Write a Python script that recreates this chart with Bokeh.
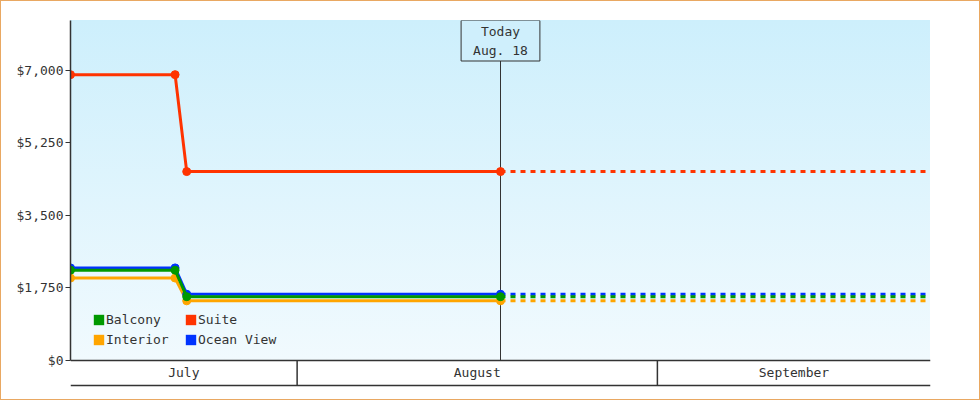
import pandas as pd
from bokeh.plotting import figure
from bokeh.models import (Range1d, FixedTicker, NumeralTickFormatter, Label,
                          Legend, LegendItem)
from bokeh.embed import file_html
from bokeh.resources import INLINE
from bokeh.core.properties import value

FONT = "DejaVu Sans Mono"
INK = "#333333"

# ---- data -------------------------------------------------------------
dates = ["2013-07-12 12:00", "2013-07-21 12:00", "2013-07-22 12:00", "2013-08-18 12:00"]
today = "2013-08-18 12:00"
range_start = "2013-07-12 12:00"
range_end = "2013-09-24 12:00"
month_starts = ["2013-08-01", "2013-09-01"]
month_names = ["July", "August", "September"]

interior = [1990, 1990, 1440, 1440]
ocean_view = [2235, 2235, 1600, 1600]
balcony = [2180, 2180, 1540, 1540]
suite = [6900, 6900, 4560, 4560]

y_ticks = [0, 1750, 3500, 5250, 7000]
y_max = 8207
y_min = -652
row_bottom = -603

series = [
    ("Interior", interior, "#FFA500"),
    ("Ocean View", ocean_view, "#0033FF"),
    ("Balcony", balcony, "#009900"),
    ("Suite", suite, "#FF3300"),
]
legend_order = ["Balcony", "Suite", "Interior", "Ocean View"]

t = pd.to_datetime
xd = t(pd.Series(dates))
x0, x1 = t(range_start), t(range_end)
xt = t(today)
ms = [t(m) for m in month_starts]

p = figure(width=980, height=400, x_axis_type="datetime", x_axis_location=None,
           x_range=Range1d(x0, x1), y_range=Range1d(y_min, y_max),
           output_backend="svg", toolbar_location=None,
           min_border_left=70, min_border_right=50, min_border_top=20,
           min_border_bottom=13)
p.background_fill_color = None
p.border_fill_color = None
p.outline_line_color = None
p.grid.visible = False
p.styles = {
    "position": "absolute", "left": "0px", "top": "0px",
    "background": "linear-gradient(#cdeffc, #f1fafe) 70px 20px / 860px 340px no-repeat, #ffffff",
    "outline": "1px solid #e9a862", "outline-offset": "-1px",
}

ax = p.yaxis[0]
ax.ticker = FixedTicker(ticks=y_ticks)
ax.formatter = NumeralTickFormatter(format="$0,0")
ax.bounds = (0, y_max)
ax.axis_line_color = INK
ax.axis_line_width = 1.5
ax.major_tick_line_color = INK
ax.major_tick_in = 0
ax.major_tick_out = 5
ax.minor_tick_line_color = None
ax.major_label_standoff = 2
ax.major_label_text_font = FONT
ax.major_label_text_font_size = "13px"
ax.major_label_text_color = INK

# month row
edges = [x0] + ms + [x1]
p.segment(x0=[x0, x0] + ms, y0=[0, row_bottom] + [row_bottom] * len(ms),
          x1=[x1, x1] + ms, y1=[0, row_bottom] + [0] * len(ms),
          line_color=INK, line_width=1.5)
mids = [edges[i] + (edges[i + 1] - edges[i]) / 2 for i in range(len(month_names))]
p.text(x=mids, y=[row_bottom / 2] * len(mids), text=month_names,
       text_align="center", text_baseline="middle",
       text_font=value(FONT), text_font_size="13px", text_color=INK)

# today line
p.segment(x0=[xt], y0=[0], x1=[xt], y1=[y_max], line_color=INK, line_width=1)

legend_r = {}
for name, vals, col in series:
    p.line(xd, vals, line_color=col, line_width=3)
    p.line([xt, x1], [vals[-1], vals[-1]], line_color=col, line_width=3, line_dash="5 5")
    p.scatter(xd, vals, size=8, fill_color=col, line_color=col)
    # zero-area quad: only used as the legend's colour swatch
    legend_r[name] = p.quad(left=xd[:1], right=xd[:1], top=vals[:1], bottom=vals[:1],
                            fill_color=col, line_color=None)

legend = Legend(items=[LegendItem(label=n, renderers=[legend_r[n]]) for n in legend_order],
                ncols=2, orientation="horizontal", location=(22, 40), padding=0, margin=0,
                spacing=5, glyph_width=13, glyph_height=13, label_height=15, label_width=73,
                label_standoff=1, label_text_font=FONT, label_text_font_size="13px",
                label_text_color=INK, background_fill_alpha=0, border_line_alpha=0)
p.add_layout(legend)

lab = Label(x=xt, y=y_max, text="Today\nAug. 18", text_align="center", text_baseline="top",
            text_font=FONT, text_font_size="13px", text_color=INK, text_line_height=1.3,
            border_line_color=INK, border_line_width=1, background_fill_color="#cfeffc",
            padding=dict(left=12, right=12, top=3, bottom=3))
p.add_layout(lab)

open("out.html", "w").write(file_html(p, INLINE))
